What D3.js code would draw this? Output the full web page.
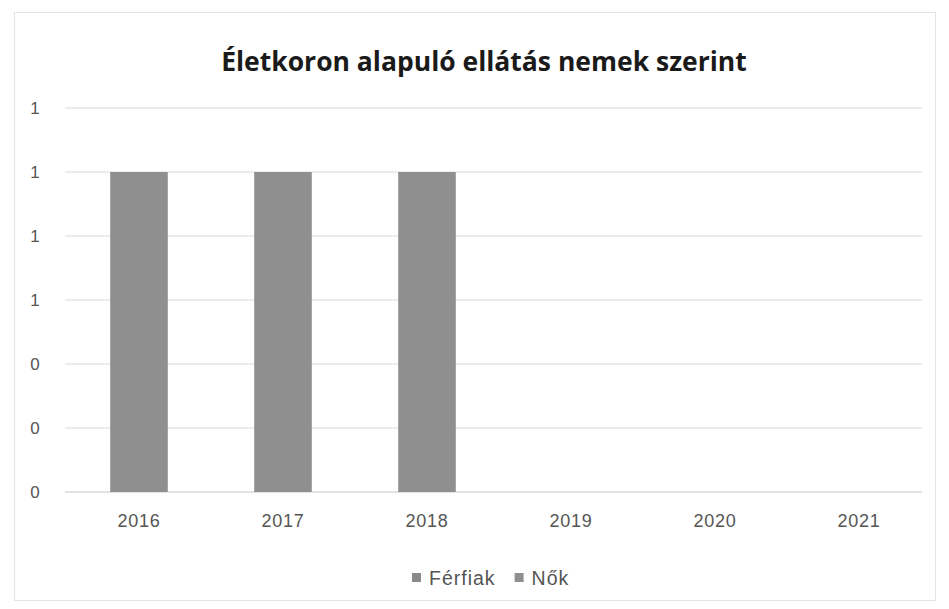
<!DOCTYPE html>
<html><head><meta charset="utf-8">
<script src="https://cdn.jsdelivr.net/npm/d3@7"></script>
<style>body{margin:0;background:#fff;}svg{display:block;}</style>
</head><body>
<svg id="c" width="949" height="609"></svg>
<script>
const categories = ["2016","2017","2018","2019","2020","2021"];
const ferfiak = [0,0,0,0,0,0];
const nok = [1,1,1,0,0,0];
const seriesNames = ["Férfiak","Nők"];
const yTicks = [0,0.2,0.4,0.6,0.8,1.0,1.2];
const title = "Életkoron alapuló ellátás nemek szerint";

const svg = d3.select("#c");
svg.append("rect").attr("x",14.5).attr("y",12.5).attr("width",921).attr("height",588)
  .attr("fill","#fff").attr("stroke","#e4e4e4");
const m={l:65,r:922,t:108,b:492};
const x=d3.scaleBand().domain(categories).range([67,931]).paddingInner(0.6).paddingOuter(0.3);
const y=d3.scaleLinear().domain([0,1.2]).range([m.b,m.t]);

svg.append("text").attr("x",484).attr("y",71).attr("text-anchor","middle")
  .attr("font-family","Open Sans, Liberation Sans, sans-serif").attr("font-weight","bold")
  .attr("font-size",26.5).attr("fill","#1a1a1a").text(title);

const grid=svg.append("g");
yTicks.forEach(t=>{
  grid.append("line").attr("x1",m.l).attr("x2",m.r).attr("y1",y(t)).attr("y2",y(t))
    .attr("stroke",t===0?"#c8c8c8":"#d9d9d9").attr("stroke-width",1.2);
});
const yAxis=d3.axisLeft(y).tickValues(yTicks).tickFormat(d=>String(Math.round(d))).tickSize(0).tickPadding(0);
const ya=svg.append("g").attr("transform","translate(35,0)").call(yAxis);
ya.select(".domain").remove();
ya.selectAll("text").attr("font-family","Liberation Sans, sans-serif").attr("font-size",17).attr("fill","#555").attr("text-anchor","middle");

const xAxis=d3.axisBottom(x).tickSize(0).tickPadding(22);
const xa=svg.append("g").attr("transform",`translate(0,${m.b})`).call(xAxis);
xa.select(".domain").remove();
xa.selectAll("text").attr("font-family","Liberation Sans, sans-serif").attr("font-size",18).attr("fill","#555").attr("letter-spacing","0.8px");

const data=categories.map((c,i)=>({c,Férfiak:ferfiak[i],Nők:nok[i]}));
const stack=d3.stack().keys(seriesNames)(data);
const colors={"Férfiak":"#8a8a8a","Nők":"#8f8f8f"};
stack.forEach(s=>{
  svg.append("g").selectAll("rect").data(s).join("rect")
    .attr("x",d=>x(d.data.c)).attr("width",x.bandwidth())
    .attr("y",d=>y(d[1])).attr("height",d=>y(d[0])-y(d[1]))
    .attr("fill",colors[s.key]);
});

const lg=svg.append("g").attr("transform","translate(412,578)");
let lx=0;
seriesNames.forEach(n=>{
  lg.append("rect").attr("x",lx).attr("y",-5).attr("width",9).attr("height",9).attr("fill",colors[n]);
  const t=lg.append("text").attr("x",lx+17).attr("y",7).attr("font-family","Liberation Sans, sans-serif")
    .attr("font-size",19.5).attr("letter-spacing","1px").attr("fill","#555").text(n);
  lx+=17+t.node().getComputedTextLength()+19;
});
</script></body></html>
